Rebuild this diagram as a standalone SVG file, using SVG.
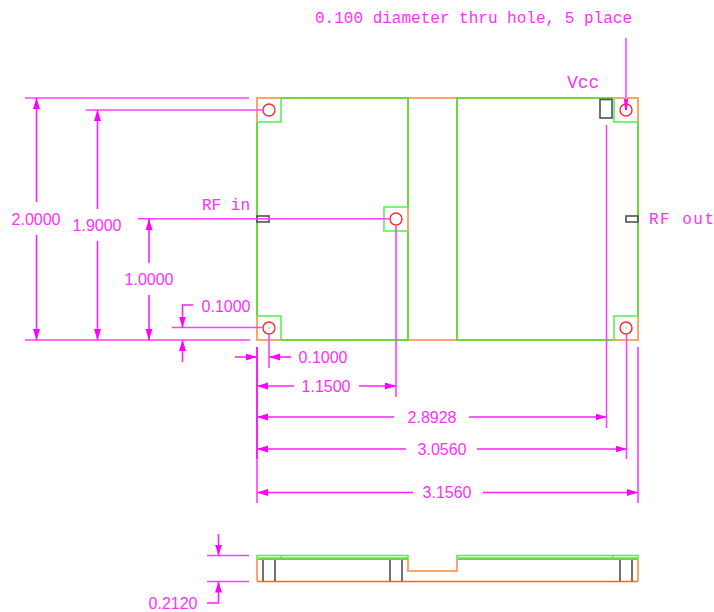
<svg xmlns="http://www.w3.org/2000/svg" width="714" height="612" viewBox="0 0 714 612">
<style>
text{font-family:"Liberation Sans",Arial,sans-serif;font-size:16px;fill:#ff30ff;text-anchor:middle}
.m{font-family:"Liberation Mono","DejaVu Sans Mono",monospace;text-anchor:start}
.g,.p,.o,.oo,.k,.r,.d,.da{fill:none}
.g{stroke:#6bd937;stroke-width:2}
.p{stroke:#50f050;stroke-width:1.500}
.o{stroke:#ffa468;stroke-width:2}
.oo{stroke:#ff6a00;stroke-width:1.500}
.k{stroke:#505050;stroke-width:1.600}
.r{stroke:#ff2a2a;stroke-width:1.400}
.d{stroke:#ff40ff;stroke-width:1.600}
.da{stroke:#ff20ff;stroke-width:1.600;marker-end:url(#ah)}
</style>
<defs>
<marker id="ah" markerUnits="userSpaceOnUse" markerWidth="12" markerHeight="8" refX="11" refY="3.500" orient="auto"><path d="M0 0L11 3.500L0 7Z" fill="#ff00ff"/></marker>
</defs>
<g id="board-top">
<path class="o" d="M257 122V98H281M408 98H457M613 98H638V122M257 316V340H281M408 340H457M613 340H638V316M408 207V231"/>
<path class="g" d="M281 98H408V207M408 231V340H281M257 122V316M613 340H457V98H613M638 122V316"/>
</g>
<g id="pad-top-left"><path class="p" d="M281 98V122H257"/><circle class="r" cx="269" cy="110" r="6"/></g>
<g id="pad-rf-in"><path class="p" d="M408 207H384V231H408"/><circle class="r" cx="396" cy="219" r="6"/></g>
<g id="pad-bottom-left"><path class="p" d="M257 316H281V340"/><circle class="r" cx="269" cy="328" r="6"/><rect x="268.500" y="327.500" width="1" height="1" fill="#a03060"/></g>
<g id="pad-top-right"><path class="p" d="M614 98V122H638"/><circle class="r" cx="626" cy="110" r="6"/></g>
<g id="pad-bottom-right"><path class="p" d="M638 316H614V340"/><circle class="r" cx="626" cy="328" r="6"/><rect x="625.500" y="327.500" width="1" height="1" fill="#e05050"/></g>
<g id="vcc-connector"><rect class="k" x="600" y="99.500" width="12" height="18.500"/><text class="m" x="567" y="88" style="font-size:18px">Vcc</text></g>
<g id="rf-in-connector"><rect class="k" x="257" y="216" width="12" height="6"/><text class="m" x="202" y="210">RF in</text></g>
<g id="rf-out-connector"><rect class="k" x="626" y="216" width="12" height="6"/><text class="m" x="649" y="224" textLength="65" lengthAdjust="spacing">RF out</text></g>
<g id="board-side">
<path class="oo" d="M257 581.500H638"/>
<path class="o" d="M257 559V581M408 559V571H457V559M638 559V581"/>
<path class="k" d="M263 559V581M275 559V581M390 559V581M402 559V581M620 559V581M632 559V581"/>
<path class="p" d="M257 555.500H408V558H257ZM281 555.500V558M457 555.500H638V558H457ZM613 555.500V558"/>
<path class="g" d="M257 559H408M457 559H638"/>
</g>
<g id="connectors">
<path class="d" d="M25 98H249M25 340H250M86 110H263M138 218.700H390M172 327.500H263"/>
<path class="da" d="M36.500 202V98"/><path class="da" d="M36.500 235V340"/>
<path class="da" d="M97.500 209V110"/><path class="da" d="M97.500 241V340"/>
<path class="da" d="M149 263V219"/><path class="da" d="M149 295V340"/>
<path class="da" d="M193 305H182.500V327.500"/><path class="da" d="M182.500 362V340"/>
<path class="da" d="M235 357H257"/><path class="da" d="M291 357H269"/>
<path class="d" d="M269 334V368M257 347V503M396 226V397M606.500 125V428M626.500 334V459M638 347V503"/>
<path d="M257 347V459" stroke="#ff20ff" stroke-width="2" fill="none"/>
<path class="da" d="M294 386H257"/><path class="da" d="M359 386H396"/>
<path class="da" d="M394 417H257"/><path class="da" d="M469 417H606.500"/>
<path class="da" d="M406 449H257"/><path class="da" d="M477 449H626.500"/>
<path class="da" d="M413 492.500H257"/><path class="da" d="M483 492.500H638"/>
<path d="M626 38V110" stroke="#ff70ff" stroke-width="2" fill="none"/><path d="M624 99H628L627 110H625Z" fill="#ff00ff"/>
<path class="d" d="M207 555.500H249M207 581.500H249"/>
<path class="da" d="M218.500 534V555.500"/><path class="da" d="M207 603H218.500V581.500"/>
</g>
<g id="labels">
<text class="m" x="315" y="23" textLength="317" lengthAdjust="spacing">0.100 diameter thru hole, 5 place</text>
<text x="36" y="225">2.0000</text>
<text x="97" y="231">1.9000</text>
<text x="149" y="285">1.0000</text>
<text x="226" y="312">0.1000</text>
<text x="323" y="363">0.1000</text>
<text x="326" y="392">1.1500</text>
<text x="432" y="423">2.8928</text>
<text x="442" y="455">3.0560</text>
<text x="447" y="498">3.1560</text>
<text x="173" y="609">0.2120</text>
</g>
</svg>
